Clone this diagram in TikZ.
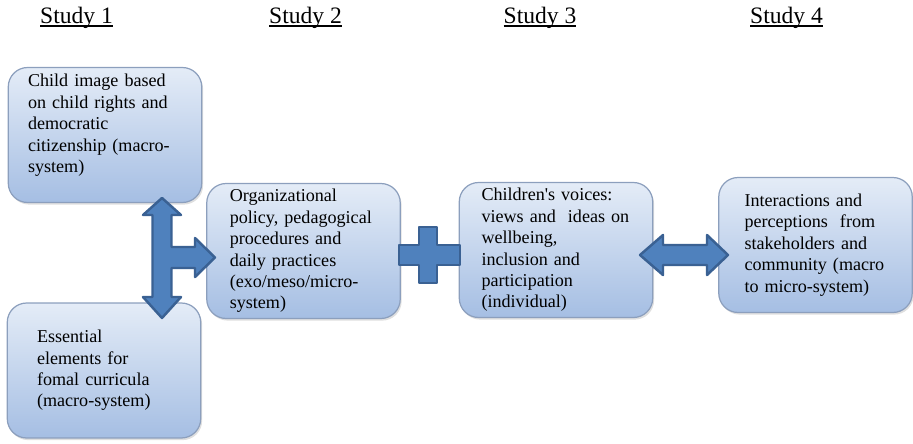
\documentclass[tikz,border=0pt]{standalone}
\usepackage{fontspec}
\setmainfont{Liberation Serif}
\usetikzlibrary{shadows}
\definecolor{boxtop}{HTML}{E4ECF7}
\definecolor{boxbot}{HTML}{A5BEE3}
\definecolor{boxedge}{HTML}{8C9FBD}
\definecolor{arrowfill}{HTML}{4F81BD}
\definecolor{arrowedge}{HTML}{3A6193}
\newcommand{\ulhead}[1]{\setbox0\hbox{#1}\rlap{\rule[-2pt]{\wd0}{0.9pt}}\box0}

\begin{document}
\begin{tikzpicture}[x=0.02cm,y=-0.02cm,
  head/.style={anchor=base, font=\fontsize{13.4}{16}\selectfont},
  block/.style={draw=boxedge, line width=0.7pt, rounded corners=11pt, top color=boxtop, bottom color=boxbot,
    drop shadow={opacity=0.25, shadow xshift=0.8pt, shadow yshift=-1.2pt},
    minimum width=3.87cm, minimum height=2.7cm, inner ysep=1pt, align=left, text width=2.95cm,
    font=\fontsize{10.3}{12.2}\selectfont},
  bigarrow/.style={draw=arrowedge, fill=arrowfill, line width=1.4pt, line join=round}]
\useasboundingbox (0,0) rectangle (913,443);
\node[head] (s1) at (76.5,23)  {\ulhead{Study 1}};
\node[head] (s2) at (305.5,23) {\ulhead{Study 2}};
\node[head] (s3) at (540,23)   {\ulhead{Study 3}};
\node[head] (s4) at (786.5,23) {\ulhead{Study 4}};
\node[block, text width=3.08cm] (b1) at (105,135)   {Child image based\\on child rights and\\democratic\\citizenship (macro-\\system)\par\vspace{11pt}\kern0pt};
\node[block, text width=2.68cm] (b5) at (104,370.5) {Essential\\elements for\\fomal curricula\\(macro-system)};
\node[block] (b2) at (303.5,251) {Organizational\\policy, pedagogical\\procedures and\\daily practices\\(exo/meso/micro-\\system)};
\node[block, text width=2.98cm] (b3) at (556,250) {Children\textquotesingle s voices:\\views and\ \ ideas on\\wellbeing,\\inclusion and\\participation\\(individual)};
\node[block, text width=2.84cm] (b4) at (815.5,245) {Interactions and\\perceptions\ \ from\\stakeholders and\\community (macro\\to micro-system)};
\draw[bigarrow] (162,198) -- (181,215) -- (171.5,215) -- (171.5,247) -- (195,247) -- (195,238) -- (215,257.5)
  -- (195,277) -- (195,268) -- (171.5,268) -- (171.5,297) -- (181,297) -- (162,318) -- (143,297)
  -- (152.5,297) -- (152.5,215) -- (143,215) -- cycle;
\draw[bigarrow] (419,227) -- (437,227) -- (437,245) -- (460,245) -- (460,265) -- (437,265) -- (437,283)
  -- (419,283) -- (419,265) -- (399,265) -- (399,245) -- (419,245) -- cycle;
\draw[bigarrow] (640,255) -- (663,235) -- (663,245) -- (707,245) -- (707,235) -- (728,255) -- (707,275)
  -- (707,265) -- (663,265) -- (663,275) -- cycle;
\end{tikzpicture}
\end{document}
